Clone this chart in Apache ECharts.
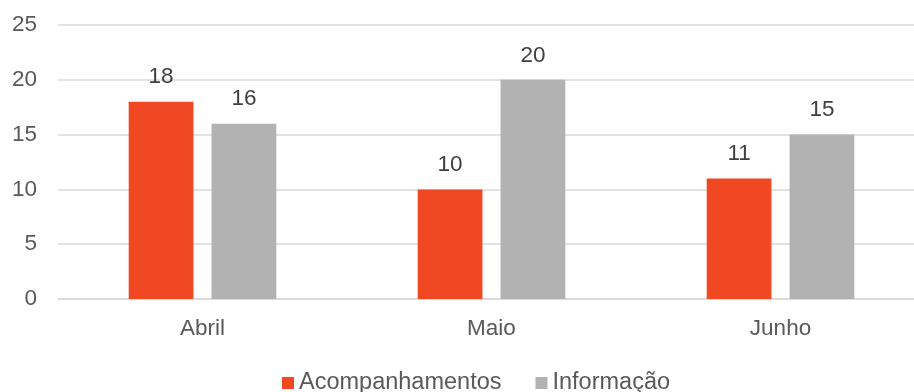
<!DOCTYPE html>
<html>
<head>
<meta charset="utf-8">
<script src="https://cdn.jsdelivr.net/npm/echarts@6/dist/echarts.min.js"></script>
<style>html,body{margin:0;padding:0;background:#fff;overflow:hidden}#c{width:926px;height:392px}</style>
</head>
<body>
<div id="c"></div>
<script>
const categories = ['Abril', 'Maio', 'Junho'];
const acompanhamentos = [18, 10, 11];
const informacao = [16, 20, 15];
const yTicks = { min: 0, max: 25, interval: 5 };

const chart = echarts.init(document.getElementById('c'), null, { renderer: 'canvas' });
const font = '"Liberation Sans", Arial, sans-serif';
chart.setOption({
  animation: false,
  textStyle: { fontFamily: font },
  grid: { left: 58, top: 25, right: 1, height: 274, containLabel: false },
  legend: {
    left: 277, top: 366,
    itemWidth: 12, itemHeight: 12, itemGap: 34,
    icon: 'rect',
    textStyle: { fontSize: 23.5, color: '#595959', fontFamily: font },
    data: ['Acompanhamentos', 'Informação']
  },
  xAxis: {
    type: 'category',
    data: categories,
    axisLine: { lineStyle: { color: '#D9D9D9', width: 1.5 } },
    axisTick: { show: false },
    axisLabel: { fontSize: 22.5, color: '#595959', margin: 18, fontFamily: font }
  },
  yAxis: {
    type: 'value',
    min: yTicks.min, max: yTicks.max, interval: yTicks.interval,
    axisLine: { show: false },
    axisTick: { show: false },
    axisLabel: { fontSize: 22.5, color: '#595959', margin: 21, fontFamily: font },
    splitLine: { lineStyle: { color: '#D9D9D9', width: 1.5 } }
  },
  series: [
    {
      name: 'Acompanhamentos', type: 'bar', data: acompanhamentos,
      barWidth: '22.4%', barGap: '28%',
      itemStyle: { color: '#EF4823' },
      label: { show: true, position: 'top', distance: 13, fontSize: 22.5, color: '#404040', fontFamily: font }
    },
    {
      name: 'Informação', type: 'bar', data: informacao,
      barWidth: '22.4%', barGap: '28%',
      itemStyle: { color: '#B2B2B2' },
      label: { show: true, position: 'top', distance: 13, fontSize: 22.5, color: '#404040', fontFamily: font }
    }
  ]
});
</script>
</body>
</html>
